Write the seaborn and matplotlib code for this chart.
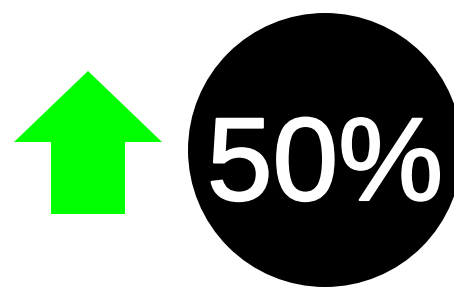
import matplotlib
matplotlib.use("Agg")
import matplotlib.pyplot as plt
import matplotlib.patches as mpatches
import matplotlib.patheffects as pe
import seaborn as sns

# data
percent_value = 50
trend = "up"
arrow_colors = {"up": "#00ff00", "down": "#ff0000"}

sns.set_theme(style="white")
plt.rcParams['font.family'] = ['Liberation Sans', 'DejaVu Sans']

W, H = 454, 288
fig = plt.figure(figsize=(W / 100, H / 100), dpi=100)
ax = fig.add_axes([0, 0, 1, 1])
ax.set_xlim(0, W)
ax.set_ylim(H, 0)
ax.axis("off")

# arrow (head + shaft), pixel layout
cx, tip, head_base, bottom = 88, 71, 142, 214
head_half, shaft_half = 74, 37
pts = [(cx, tip), (cx + head_half, head_base), (cx + shaft_half, head_base),
       (cx + shaft_half, bottom), (cx - shaft_half, bottom),
       (cx - shaft_half, head_base), (cx - head_half, head_base)]
ax.add_patch(mpatches.Polygon(pts, closed=True, color=arrow_colors[trend], lw=0))

# circle with the value
circ_x, circ_y, r = 325, 150, 137
ax.add_patch(mpatches.Circle((circ_x, circ_y), r, color="black", lw=0))
ax.text(circ_x, 200, "{}%".format(percent_value), color="white",
        fontsize=85, ha="center", va="baseline",
        path_effects=[pe.withStroke(linewidth=1.5, foreground="white")])

plt.savefig("out.png", dpi=100)
plt.close()
